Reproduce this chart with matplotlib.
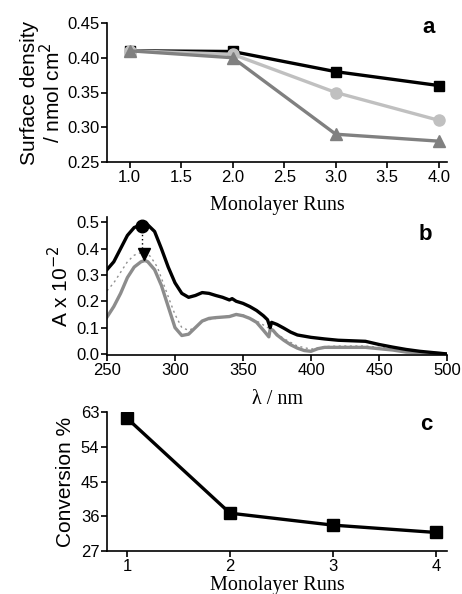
import matplotlib
matplotlib.use("Agg")
import matplotlib.pyplot as plt
import numpy as np

# Panel a data
runs_a = [1.0, 2.0, 3.0, 4.0]
dens_black = [0.41, 0.409, 0.38, 0.36]
dens_light = [0.41, 0.405, 0.35, 0.31]
dens_dark = [0.41, 0.40, 0.29, 0.28]

# Panel b data (spectra)
wl_black = [250, 255, 260, 265, 270, 275, 280, 285, 290, 295, 300, 305, 310, 315, 320, 325, 330, 335, 340, 342,
            345, 350, 355, 360, 365, 368, 370, 371, 375, 380, 385, 390, 400, 410, 420, 430, 440, 450, 460, 470,
            480, 490, 500]
a_black = [0.32, 0.35, 0.40, 0.45, 0.48, 0.49, 0.49, 0.465, 0.40, 0.33, 0.27, 0.23, 0.215, 0.222, 0.233, 0.23,
           0.222, 0.215, 0.205, 0.21, 0.20, 0.192, 0.18, 0.165, 0.145, 0.13, 0.10, 0.12, 0.112, 0.098, 0.083,
           0.072, 0.063, 0.057, 0.052, 0.05, 0.048, 0.036, 0.026, 0.017, 0.01, 0.005, 0.0]
wl_gray = [250, 255, 260, 265, 270, 275, 278, 280, 285, 290, 295, 300, 305, 310, 315, 320, 325, 330, 335, 340,
           345, 350, 355, 360, 365, 369, 370, 372, 375, 380, 385, 390, 395, 400, 405, 410, 420, 430, 440, 450,
           460, 470, 480, 490, 500]
a_gray = [0.14, 0.18, 0.23, 0.29, 0.33, 0.35, 0.355, 0.35, 0.32, 0.26, 0.18, 0.10, 0.07, 0.075, 0.10, 0.125,
          0.135, 0.138, 0.14, 0.142, 0.15, 0.145, 0.135, 0.12, 0.09, 0.065, 0.095, 0.09, 0.072, 0.052, 0.035,
          0.022, 0.013, 0.01, 0.02, 0.025, 0.025, 0.025, 0.025, 0.02, 0.015, 0.007, 0.005, 0.003, 0.0]
wl_dot = [250, 255, 260, 265, 270, 275, 278, 282, 287, 292, 297, 300, 305, 310, 315, 320, 330, 340, 350, 360,
          370, 380, 390, 400, 410, 420, 440, 460, 480, 500]
a_dot = [0.24, 0.27, 0.31, 0.35, 0.375, 0.385, 0.385, 0.37, 0.33, 0.26, 0.19, 0.15, 0.10, 0.09, 0.10, 0.125,
         0.135, 0.145, 0.148, 0.125, 0.095, 0.058, 0.03, 0.018, 0.028, 0.03, 0.03, 0.02, 0.008, 0.0]
peak_wl = 276
peak_top = 0.485
peak_bottom = 0.38

# Panel c data
runs_c = [1, 2, 3, 4]
conversion = [61.4, 36.8, 33.7, 31.8]

sans = "Liberation Sans"
serif = "Liberation Serif"
TICK = 12
YLAB = 15
XLAB = 14.5
LET = 16

fig = plt.figure(figsize=(4.62, 5.94), dpi=100)
W, H = 462, 594


def add_axes(l, r, t, b):
    return fig.add_axes([l / W, 1 - b / H, (r - l) / W, (b - t) / H])


def style(ax):
    for s in ["top", "right"]:
        ax.spines[s].set_visible(False)
    for s in ["left", "bottom"]:
        ax.spines[s].set_linewidth(1.2)
    ax.tick_params(direction="out", length=4, width=1.2, labelsize=TICK, pad=1.5)
    for lab in ax.get_xticklabels() + ax.get_yticklabels():
        lab.set_fontfamily(sans)


# Panel a
axa = add_axes(107, 447, 23, 162)
axa.plot(runs_a, dens_light, color="#c0c0c0", lw=2.4, marker="o", ms=8, zorder=2)
axa.plot(runs_a, dens_dark, color="#808080", lw=2.4, marker="^", ms=8.5, zorder=3)
axa.plot(runs_a, dens_black, color="black", lw=2.4, marker="s", ms=7, zorder=1)
axa.set_xlim(0.78, 4.08)
axa.set_ylim(0.25, 0.45)
axa.set_xticks([1.0, 1.5, 2.0, 2.5, 3.0, 3.5, 4.0])
axa.set_xticklabels(["1.0", "1.5", "2.0", "2.5", "3.0", "3.5", "4.0"])
axa.set_yticks([0.25, 0.30, 0.35, 0.40, 0.45])
axa.set_yticklabels(["0.25", "0.30", "0.35", "0.40", "0.45"])
style(axa)
axa.set_xlabel("Monolayer Runs", fontfamily=serif, fontsize=XLAB, labelpad=8)
axa.set_ylabel("Surface density\n/ nmol cm$^2$", fontfamily=sans, fontsize=YLAB, labelpad=2, linespacing=1.0)
axa.text(0.945, 0.965, "a", transform=axa.transAxes, fontfamily=sans, fontweight="bold",
         fontsize=LET, ha="center", va="center")

# Panel b
axb = add_axes(107, 447, 217, 355)
axb.plot(wl_dot, a_dot, color="#909090", lw=1.0, ls=(0, (1.5, 2.5)), zorder=1)
axb.plot(wl_gray, a_gray, color="#8c8c8c", lw=2.4, zorder=2)
axb.plot(wl_black, a_black, color="black", lw=2.4, zorder=3)
axb.plot([peak_wl, peak_wl], [peak_top, peak_bottom], color="black", lw=1.0, ls=(0, (1, 2)), zorder=4)
axb.plot([peak_wl], [peak_top], marker="o", color="black", ms=9, ls="none", zorder=5)
axb.plot([peak_wl + 1], [peak_bottom], marker="v", color="black", ms=8, ls="none", zorder=5)
axb.set_xlim(250, 500)
axb.set_ylim(-0.004, 0.52)
axb.set_xticks([250, 300, 350, 400, 450, 500])
axb.set_yticks([0.0, 0.1, 0.2, 0.3, 0.4, 0.5])
axb.set_yticklabels(["0.0", "0.1", "0.2", "0.3", "0.4", "0.5"])
style(axb)
axb.set_xlabel("λ / nm", fontfamily=serif, fontsize=XLAB, labelpad=9)
axb.set_ylabel("A x 10$^{-2}$", fontfamily=sans, fontsize=YLAB, labelpad=3)
axb.text(0.935, 0.87, "b", transform=axb.transAxes, fontfamily=sans, fontweight="bold",
         fontsize=LET, ha="center", va="center")

# Panel c
axc = add_axes(107, 447, 412, 551)
axc.plot(runs_c, conversion, color="black", lw=2.4, marker="s", ms=8)
axc.set_xlim(0.806, 4.107)
axc.set_ylim(27, 63)
axc.set_xticks([1, 2, 3, 4])
axc.set_yticks([27, 36, 45, 54, 63])
style(axc)
axc.set_xlabel("Monolayer Runs", fontfamily=serif, fontsize=XLAB, labelpad=1.5)
axc.set_ylabel("Conversion %", fontfamily=sans, fontsize=YLAB, labelpad=4)
axc.text(0.94, 0.91, "c", transform=axc.transAxes, fontfamily=sans, fontweight="bold",
         fontsize=LET, ha="center", va="center")

fig.savefig("out.png", dpi=100)
